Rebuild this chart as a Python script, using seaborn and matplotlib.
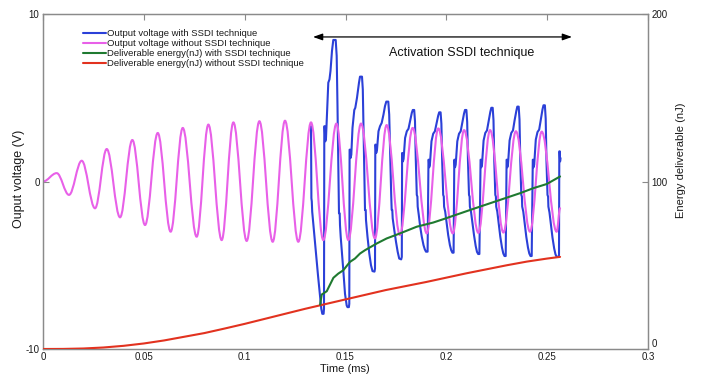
import matplotlib
matplotlib.use("Agg")
import matplotlib.pyplot as plt
from matplotlib.path import Path
from matplotlib.patches import PathPatch
from matplotlib.lines import Line2D
import seaborn as sns

# ---------------- data ----------------
# Output voltage without SSDI: start, successive extrema, end (ms, V)
t_mag = [0.0, 0.0068, 0.0129, 0.0192, 0.0258, 0.0316, 0.0382, 0.0443, 0.0506, 0.0569,
         0.0633, 0.0693, 0.0762, 0.0820, 0.0886, 0.0944, 0.1010, 0.1073, 0.1139, 0.1200,
         0.1266, 0.1329, 0.1390, 0.1455, 0.1514, 0.1577, 0.1646, 0.1704, 0.1770, 0.1833,
         0.1903, 0.1960, 0.2032, 0.2088, 0.2159, 0.2217, 0.2283, 0.2345, 0.2415, 0.2473,
         0.2547, 0.2564]
v_mag = [0.0, 0.5, -0.8, 1.24, -1.6, 1.94, -2.14, 2.48, -2.6, 2.9,
         -3.0, 3.2, -3.3, 3.4, -3.5, 3.53, -3.55, 3.6, -3.6, 3.63,
         -3.6, 3.53, -3.5, 3.46, -3.5, 3.46, -3.4, 3.37, -3.2, 3.2,
         -3.1, 3.17, -3.1, 3.07, -3.07, 3.07, -3.05, 3.0, -3.0, 2.98,
         -3.0, -1.6]

# Output voltage with SSDI (ms, V)
t_blue = [0.13289, 0.13309, 0.13329, 0.13349, 0.13438, 0.13537, 0.13636, 0.13735, 0.13800, 0.13849, 0.13914,
          0.13934, 0.13949, 0.13973, 0.13998, 0.14033, 0.14107, 0.14147, 0.14206, 0.14256, 0.14330, 0.14395, 0.14514,
          0.14563, 0.14603, 0.14642, 0.14677, 0.14712, 0.14727, 0.14762, 0.14891, 0.14975, 0.15059, 0.15099, 0.15168,
          0.15188, 0.15203, 0.15228, 0.15248, 0.15288, 0.15347, 0.15436, 0.15486, 0.15570, 0.15669, 0.15719, 0.15818,
          0.15858, 0.15902, 0.15942, 0.15967, 0.16002, 0.16016, 0.16091, 0.16180, 0.16264, 0.16339, 0.16438,
          0.16463, 0.16478, 0.16502, 0.16522, 0.16562, 0.16636, 0.16711, 0.16795, 0.16884, 0.16958, 0.17023, 0.17122,
          0.17167, 0.17216, 0.17266, 0.17290, 0.17320, 0.17340, 0.17419, 0.17504, 0.17588, 0.17663, 0.17762,
          0.17792, 0.17807, 0.17826, 0.17846, 0.17881, 0.17955, 0.18040, 0.18124, 0.18203, 0.18288, 0.18337, 0.18407,
          0.18446, 0.18486, 0.18535, 0.18565, 0.18580, 0.18634, 0.18704, 0.18783, 0.18868, 0.18932, 0.18992, 0.19071,
          0.19115, 0.19135, 0.19150, 0.19185, 0.19264, 0.19348, 0.19433, 0.19512, 0.19596, 0.19646, 0.19715, 0.19755,
          0.19795, 0.19844, 0.19874, 0.19889, 0.19944, 0.20018, 0.20092, 0.20177, 0.20241, 0.20301, 0.20360,
          0.20395, 0.20415, 0.20430, 0.20464, 0.20544, 0.20628, 0.20712, 0.20792, 0.20876, 0.20925, 0.20995, 0.21034,
          0.21074, 0.21124, 0.21153, 0.21168, 0.21223, 0.21297, 0.21372, 0.21456, 0.21520, 0.21580, 0.21639,
          0.21699, 0.21719, 0.21733, 0.21768, 0.21848, 0.21932, 0.22016, 0.22096, 0.22180, 0.22230, 0.22299, 0.22339,
          0.22378, 0.22428, 0.22458, 0.22473, 0.22527, 0.22602, 0.22676, 0.22760, 0.22825, 0.22885, 0.22944,
          0.22988, 0.23008, 0.23023, 0.23057, 0.23137, 0.23221, 0.23305, 0.23385, 0.23469, 0.23519, 0.23588, 0.23628,
          0.23668, 0.23717, 0.23747, 0.23762, 0.23816, 0.23891, 0.23965, 0.24049, 0.24114, 0.24174, 0.24233,
          0.24287, 0.24307, 0.24322, 0.24357, 0.24436, 0.24520, 0.24604, 0.24684, 0.24768, 0.24818, 0.24887, 0.24927,
          0.24966, 0.25016, 0.25046, 0.25061, 0.25115, 0.25190, 0.25264, 0.25348, 0.25413, 0.25472, 0.25552,
          0.25587, 0.25602, 0.25626, 0.25641, 0.25661]
v_blue = [3.3, -1.0, -1.2, -1.8, -3.0, -4.3, -5.6, -6.8, -7.6, -7.9, -7.9,
          -7.6, 3.3, 3.3, 2.4, 2.6, 4.8, 5.9, 6.1, 6.6, 7.8, 8.45, 8.45,
          7.5, 4.5, 1.0, -1.9, -1.9, -2.6, -3.3, -5.3, -6.7, -7.4, -7.5, -7.5,
          -7.3, 1.9, 1.9, 1.4, 1.6, 3.2, 4.27, 4.4, 5.0, 5.9, 6.26, 6.26,
          5.5, 2.5, -0.5, -1.7, -1.7, -2.3, -3.3, -4.3, -5.0, -5.35, -5.38,
          -5.2, 2.2, 2.2, 1.7, 1.9, 3.0, 3.3, 3.5, 4.0, 4.5, 4.77, 4.77,
          4.0, 1.5, -0.8, -1.7, -1.7, -2.2, -2.9, -3.6, -4.2, -4.6, -4.65,
          -4.5, 1.7, 1.7, 1.2, 1.35, 2.6, 3.0, 3.15, 3.6, 4.1, 4.27, 4.27,
          3.6, 1.3, -0.8, -0.9, -1.5, -2.0, -2.7, -3.3, -3.8, -4.05, -4.19, -4.19,
          1.3, 1.3, 0.85, 1.0, 2.4, 2.85, 3.0, 3.45, 3.93, 4.13, 4.13, 3.45,
          1.2, -0.8, -0.9, -1.5, -1.8, -2.5, -3.2, -3.8, -4.1, -4.25, -4.25,
          1.3, 1.3, 0.85, 1.0, 2.4, 2.85, 3.0, 3.5, 4.05, 4.27, 4.27, 3.55,
          1.2, -0.8, -0.9, -1.5, -1.8, -2.5, -3.2, -3.85, -4.2, -4.33, -4.33,
          1.3, 1.3, 0.85, 1.0, 2.45, 2.9, 3.05, 3.6, 4.15, 4.4, 4.4, 3.65,
          1.2, -0.8, -0.9, -1.5, -1.8, -2.55, -3.3, -3.95, -4.3, -4.45, -4.45,
          1.3, 1.3, 0.85, 1.0, 2.45, 2.9, 3.05, 3.65, 4.2, 4.47, 4.47, 3.7,
          1.2, -0.8, -0.9, -1.5, -1.8, -2.55, -3.3, -3.95, -4.3, -4.45, -4.45,
          1.3, 1.3, 0.85, 1.0, 2.5, 2.95, 3.1, 3.7, 4.3, 4.55, 4.55, 3.75,
          1.2, -0.8, -0.9, -1.5, -1.85, -2.6, -3.35, -4.0, -4.35, -4.5, -4.5,
          -4.4, 1.8, 1.8, 1.2, 1.4]

# Deliverable energy without SSDI (ms, nJ)
t_red = [0, 0.01, 0.02, 0.03, 0.04, 0.05, 0.06, 0.07, 0.08, 0.09, 0.10, 0.11, 0.12, 0.13,
         0.14, 0.15, 0.16, 0.17, 0.18, 0.19, 0.20, 0.21, 0.22, 0.23, 0.24, 0.25, 0.2564]
e_red = [0, 0.05, 0.3, 0.9, 1.9, 3.3, 5.1, 7.3, 9.5, 12.2, 15.0, 18.0, 21.0, 24.0,
         26.8, 29.6, 32.4, 35.2, 37.6, 40.0, 42.6, 45.2, 47.6, 50.0, 52.2, 54.0, 55.0]

# Deliverable energy with SSDI (ms, nJ)
t_grn = [0.1374, 0.1382, 0.1407, 0.1440, 0.1464, 0.1489, 0.1522, 0.1547, 0.1572, 0.1597,
         0.1655, 0.1704, 0.1770, 0.1853, 0.1935, 0.1985, 0.2101, 0.2167, 0.2266, 0.2365,
         0.2431, 0.2498, 0.2564]
e_grn = [26.5, 32.5, 34.5, 42.5, 45.0, 47.0, 52.0, 54.0, 57.0, 59.0,
         63.0, 66.0, 69.0, 73.0, 75.5, 77.5, 82.3, 85.0, 89.0, 93.0,
         96.0, 98.5, 103.0]

labels = ["Output voltage with SSDI technique",
          "Output voltage without SSDI technique",
          "Deliverable energy(nJ) with SSDI technique",
          "Deliverable energy(nJ) without SSDI technique"]
x_ticks = [0, 0.05, 0.1, 0.15, 0.2, 0.25, 0.3]
x_ticklabels = ["0", "0.05", "0.1", "0.15", "0.2", "0.25", "0.3"]
y_ticks = [-10, 0, 10]
y_ticklabels = ["-10", "0", "10"]
y2_ticks = [0, 100, 200]
y2_ticklabels = ["0", "100", "200"]

# ---------------- styling ----------------
sns.set_style("white")
plt.rcParams["font.family"] = ["Liberation Sans", "DejaVu Sans"]
plt.rcParams["axes.unicode_minus"] = False

C_BLUE = "#2b40d8"
C_MAG = "#e860e8"
C_GRN = "#1f7a30"
C_RED = "#e2321f"
C_SPINE = "#8a8a8a"
C_TXT = "#1a1a1a"
LW = 1.5

fig = plt.figure(figsize=(7.04, 3.77), dpi=100)
ax = fig.add_axes([43 / 704, 1 - 349 / 377, 605 / 704, 335 / 377])
ax2 = ax.twinx()

# blue
sns.lineplot(x=t_blue, y=v_blue, ax=ax, color=C_BLUE, lw=LW, sort=False,
             estimator=None, legend=False, zorder=2)

# magenta, smooth curve through extrema (horizontal tangents at each extremum)
k = 0.3634
verts = [(t_mag[0], v_mag[0])]
codes = [Path.MOVETO]
for i in range(len(t_mag) - 1):
    t0, v0, t1, v1 = t_mag[i], v_mag[i], t_mag[i + 1], v_mag[i + 1]
    dt = t1 - t0
    verts += [(t0 + k * dt, v0), (t1 - k * dt, v1), (t1, v1)]
    codes += [Path.CURVE4] * 3
ax.add_patch(PathPatch(Path(verts, codes), facecolor="none", edgecolor=C_MAG,
                       lw=LW, zorder=2.5, capstyle="round", joinstyle="round"))

# energies on right axis
sns.lineplot(x=t_red, y=e_red, ax=ax2, color=C_RED, lw=LW, sort=False,
             estimator=None, legend=False, zorder=3)
sns.lineplot(x=t_grn, y=e_grn, ax=ax2, color=C_GRN, lw=LW, sort=False,
             estimator=None, legend=False, zorder=4)

ax.set_xlim(0, 0.3)
ax.set_ylim(-10, 10)
ax2.set_ylim(0, 200)

ax.set_xticks(x_ticks)
ax.set_xticklabels(x_ticklabels)
ax.set_yticks(y_ticks)
ax.set_yticklabels(y_ticklabels)
ax2.set_yticks(y2_ticks)
ax2.set_yticklabels(y2_ticklabels)

for a in (ax, ax2):
    for s in a.spines.values():
        s.set_color(C_SPINE)
        s.set_linewidth(0.9)
ax.tick_params(axis="both", direction="in", length=4, width=0.8, color=C_SPINE,
               labelcolor=C_TXT, labelsize=7, pad=2.5, top=True)
ax.tick_params(axis="y", right=False)
ax2.tick_params(axis="y", direction="in", length=4, width=0.8, color=C_SPINE,
                labelcolor=C_TXT, labelsize=7, pad=2.5)
# right-axis "0" sits just above the corner, as in the reference
ax2.get_yticklabels()[0].set_verticalalignment("bottom")
ax.get_xticklabels()[0].set_verticalalignment("top")

ax.set_xlabel("Time (ms)", fontsize=8, color=C_TXT)
ax.xaxis.set_label_coords(0.499, -0.045)
ax.set_ylabel("Ouput voltage (V)", fontsize=9, color=C_TXT)
ax.yaxis.set_label_coords(-0.03, 0.509)
ax2.set_ylabel("Energy deliverable (nJ)", fontsize=8, color=C_TXT)
ax2.yaxis.set_label_coords(1.046, 0.564)

# annotation
ax.annotate("", xy=(0.1339, 8.63), xytext=(0.2623, 8.63),
            arrowprops=dict(arrowstyle="<|-|>,head_length=0.7,head_width=0.25",
                            color="black", lw=0.9, mutation_scale=8,
                            shrinkA=0, shrinkB=0))
ax.text(0.2078, 7.67, "Activation SSDI technique", ha="center", va="center",
        fontsize=9, color="#111111")

# legend
handles = [Line2D([], [], color=c, lw=LW) for c in (C_BLUE, C_MAG, C_GRN, C_RED)]
leg = ax.legend(handles, labels, loc="upper left", bbox_to_anchor=(0.066, 0.955),
                frameon=False, fontsize=6.8, handlelength=2.4, handletextpad=0.1,
                labelspacing=0.12, borderaxespad=0, borderpad=0)
for txt in leg.get_texts():
    txt.set_color(C_TXT)

fig.savefig("out.png", dpi=100)
